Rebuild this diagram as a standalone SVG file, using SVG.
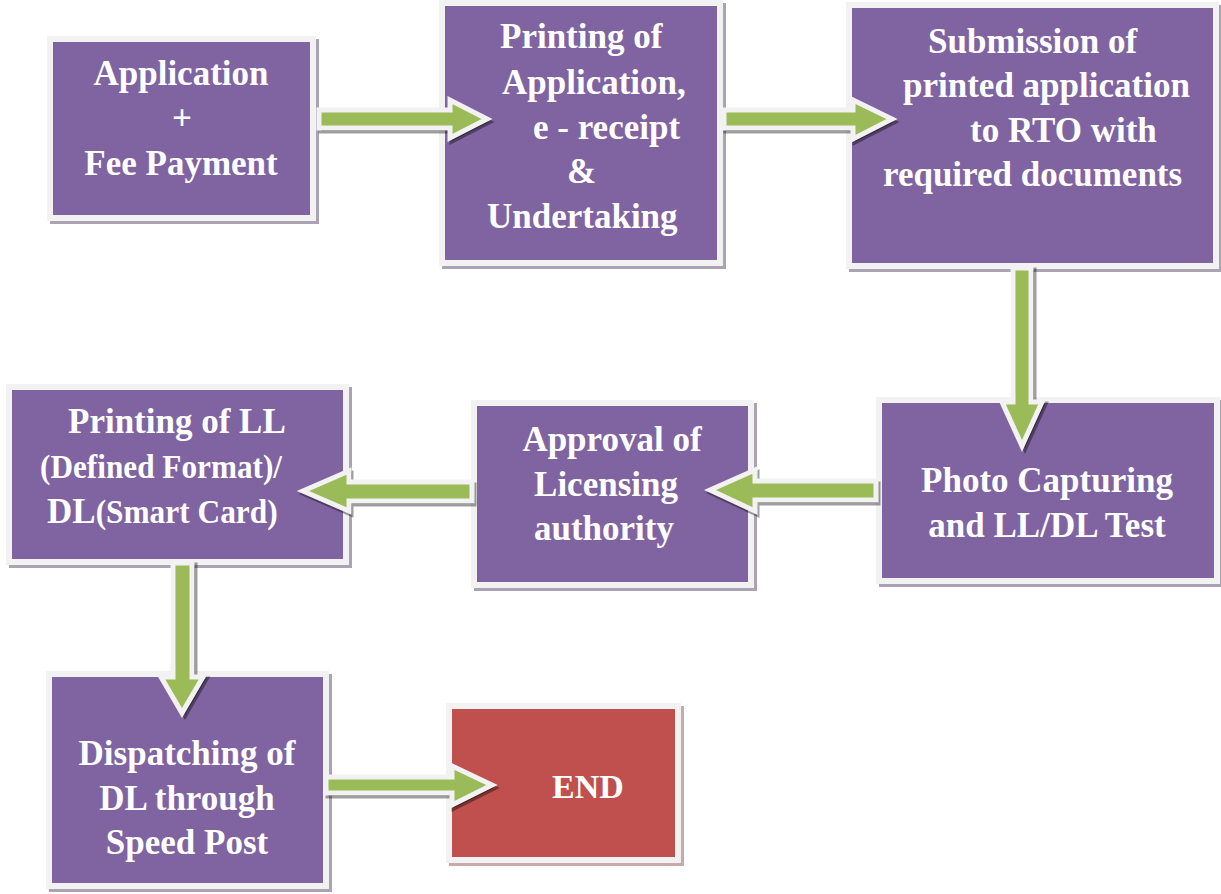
<svg xmlns="http://www.w3.org/2000/svg" width="1221" height="894" viewBox="0 0 1221 894">
<style>
.bg{fill:#FFFFFF}
.sh{fill:#A9A3B3}
.shr{fill:#C9A9A9}
.fr{fill:#F2F2F2}
.pu{fill:#8064A2}
.rd{fill:#C0504D}
.t{font-family:"Liberation Serif","Times New Roman",serif;font-weight:bold;font-size:35px;fill:#FFFFFF}
.c{text-anchor:middle}
.sm{font-size:33px}
.ar{fill:#9BBB59;stroke:#F2F2F2;stroke-width:5;stroke-linejoin:miter}
.as{fill:#000000;fill-opacity:0.38;stroke:#000000;stroke-opacity:0.38;stroke-width:5}
</style>
<rect class="bg" x="0" y="0" width="1221" height="894"/>

<g id="node-application">
<rect class="sh" x="50" y="39" width="269" height="185"/>
<rect class="fr" x="47" y="36" width="269" height="185"/>
<rect class="pu" x="53" y="42" width="257" height="173"/>
<text class="t c" x="181" y="85">Application</text>
<text class="t c" x="182" y="130">+</text>
<text class="t c" x="181" y="175">Fee Payment</text>
</g>

<g id="node-printing">
<rect class="sh" x="442" y="3" width="284" height="266"/>
<rect class="fr" x="439" y="0" width="284" height="266"/>
<rect class="pu" x="445" y="6" width="272" height="254"/>
<text class="t" x="500" y="48">Printing of</text>
<text class="t" x="502" y="94">Application,</text>
<text class="t" x="533" y="139">e - receipt</text>
<text class="t" x="567" y="183">&amp;</text>
<text class="t" x="487" y="228">Undertaking</text>
</g>

<g id="node-submission">
<rect class="sh" x="849" y="5" width="373" height="267"/>
<rect class="fr" x="846" y="2" width="373" height="267"/>
<rect class="pu" x="852" y="8" width="361" height="255"/>
<text class="t" x="928" y="53">Submission of</text>
<text class="t" x="903" y="97">printed application</text>
<text class="t" x="970" y="142">to RTO with</text>
<text class="t" x="883" y="186">required documents</text>
</g>

<g id="node-photo">
<rect class="sh" x="879" y="400" width="344" height="187"/>
<rect class="fr" x="876" y="397" width="344" height="187"/>
<rect class="pu" x="882" y="403" width="332" height="175"/>
<text class="t c" x="1047" y="492">Photo Capturing</text>
<text class="t c" x="1047" y="537">and LL/DL Test</text>
</g>

<g id="node-approval">
<rect class="sh" x="474" y="403" width="283" height="188"/>
<rect class="fr" x="471" y="400" width="283" height="188"/>
<rect class="pu" x="477" y="406" width="271" height="176"/>
<text class="t c" x="612" y="451">Approval of</text>
<text class="t c" x="606" y="496">Licensing</text>
<text class="t c" x="604" y="540">authority</text>
</g>

<g id="node-printing-ll">
<rect class="sh" x="9" y="387" width="343" height="181"/>
<rect class="fr" x="6" y="384" width="343" height="181"/>
<rect class="pu" x="12" y="390" width="331" height="169"/>
<text class="t" x="68" y="433">Printing of LL</text>
<text class="t sm" x="40" y="478" textLength="242" lengthAdjust="spacingAndGlyphs">(Defined Format)/</text>
<text class="t" x="47" y="523">DL<tspan class="sm" textLength="182" lengthAdjust="spacingAndGlyphs">(Smart Card)</tspan></text>
</g>

<g id="node-dispatching">
<rect class="sh" x="49" y="674" width="283" height="218"/>
<rect class="fr" x="46" y="671" width="283" height="218"/>
<rect class="pu" x="52" y="677" width="271" height="206"/>
<text class="t c" x="187" y="765">Dispatching of</text>
<text class="t c" x="187" y="810">DL through</text>
<text class="t c" x="187" y="854">Speed Post</text>
</g>

<g id="node-end">
<rect class="shr" x="449" y="706" width="235" height="160"/>
<rect class="fr" x="446" y="703" width="235" height="160"/>
<rect class="rd" x="452" y="709" width="223" height="148"/>
<text class="t c" x="588" y="798" style="font-size:34px">END</text>
</g>

<g id="connectors">
<polygon class="as" transform="translate(2,3)" points="319,110 450,110 450,100 487,119 450,138 450,128 319,128"/>
<polygon class="ar" points="319,110 450,110 450,100 487,119 450,138 450,128 319,128"/>

<polygon class="as" transform="translate(2,3)" points="724,110 853,110 853,100 892,119 853,139 853,128 724,128"/>
<polygon class="ar" points="724,110 853,110 853,100 892,119 853,139 853,128 724,128"/>

<polygon class="as" transform="translate(3,2)" points="1013,268 1031,268 1031,402 1042,402 1022,446 1002,402 1013,402"/>
<polygon class="ar" points="1013,268 1031,268 1031,402 1042,402 1022,446 1002,402 1013,402"/>

<polygon class="as" transform="translate(2,3)" points="876,481 755,481 755,470 710,490 755,511 755,500 876,500"/>
<polygon class="ar" points="876,481 755,481 755,470 710,490 755,511 755,500 876,500"/>

<polygon class="as" transform="translate(2,3)" points="472,482 349,482 349,471 303,491 349,511 349,501 472,501"/>
<polygon class="ar" points="472,482 349,482 349,471 303,491 349,511 349,501 472,501"/>

<polygon class="as" transform="translate(3,2)" points="173,563 192,563 192,677 203,677 182,713 161,677 173,677"/>
<polygon class="ar" points="173,563 192,563 192,677 203,677 182,713 161,677 173,677"/>

<polygon class="as" transform="translate(2,3)" points="326,777 452,777 452,766 492,785 452,805 452,793 326,793"/>
<polygon class="ar" points="326,777 452,777 452,766 492,785 452,805 452,793 326,793"/>
</g>
</svg>
